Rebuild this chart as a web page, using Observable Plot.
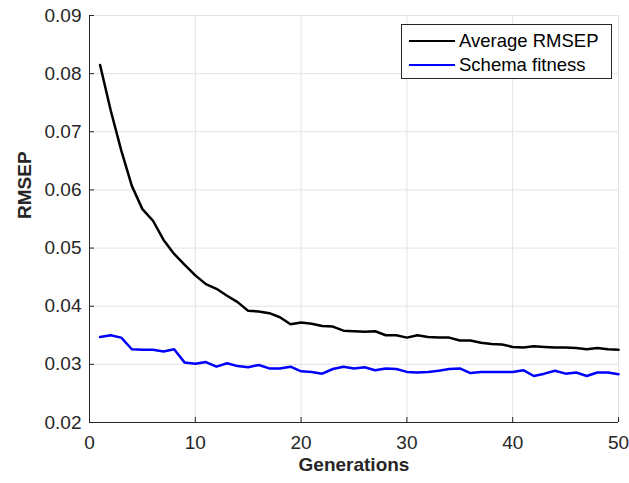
<!DOCTYPE html>
<html>
<head>
<meta charset="utf-8">
<script src="https://cdn.jsdelivr.net/npm/d3@7"></script>
<script src="https://cdn.jsdelivr.net/npm/@observablehq/plot@0.6"></script>
<style>
  html, body { margin: 0; padding: 0; background: #fff; }
  #wrap { position: relative; width: 629px; height: 483px; font-family: "Liberation Sans", Arial, sans-serif; }
  #legend { position: absolute; left: 401px; top: 24px; width: 211px; height: 55px; border: 1px solid #262626; background: #fff; box-sizing: border-box; font-size: 18.5px; color: #000; }
  .row { position: absolute; left: 7px; height: 20px; display: flex; align-items: center; }
  .sw { width: 46px; height: 2.5px; margin-right: 4px; }
</style>
</head>
<body>
<div id="wrap"></div>
<script>
const generations = d3.range(1, 51);
const averageRMSEP = [
  0.0815, 0.0737, 0.0668, 0.0607, 0.0567, 0.0547, 0.0514, 0.0490, 0.0471, 0.0453,
  0.0438, 0.0430, 0.0418, 0.0407, 0.0392, 0.0391, 0.0388, 0.0381, 0.0369, 0.0372,
  0.0370, 0.0366, 0.0365, 0.0358, 0.0357, 0.0356, 0.0357, 0.0350, 0.0350, 0.0346,
  0.0350, 0.0347, 0.0346, 0.0346, 0.0341, 0.0341, 0.0337, 0.0335, 0.0334, 0.0330,
  0.0329, 0.0331, 0.0330, 0.0329, 0.0329, 0.0328, 0.0326, 0.0328, 0.0326, 0.0325
];
const schemaFitness = [
  0.0347, 0.0350, 0.0346, 0.0326, 0.0325, 0.0325, 0.0322, 0.0326, 0.0303, 0.0301,
  0.0304, 0.0296, 0.0302, 0.0297, 0.0295, 0.0299, 0.0293, 0.0293, 0.0296, 0.0288,
  0.0287, 0.0284, 0.0292, 0.0296, 0.0293, 0.0295, 0.0290, 0.0293, 0.0292, 0.0287,
  0.0286, 0.0287, 0.0289, 0.0292, 0.0293, 0.0285, 0.0287, 0.0287, 0.0287, 0.0287,
  0.0290, 0.0280, 0.0284, 0.0289, 0.0284, 0.0286, 0.0280, 0.0286, 0.0286, 0.0283
];
const xTicks = [0, 10, 20, 30, 40, 50];
const yTicks = [0.02, 0.03, 0.04, 0.05, 0.06, 0.07, 0.08, 0.09];
const seriesNames = ["Average RMSEP", "Schema fitness"];
const seriesColors = ["#000000", "#0000ff"];

const rows = [];
generations.forEach((g, i) => {
  rows.push({g, v: averageRMSEP[i], s: seriesNames[0]});
  rows.push({g, v: schemaFitness[i], s: seriesNames[1]});
});

const mL = 89, mR = 11, mT = 15, mB = 61, W = 629, H = 483;
const fw = W - mL - mR, fh = H - mT - mB;
const axisColor = "#262626";

const plot = Plot.plot({
  width: W, height: H,
  marginLeft: mL, marginRight: mR, marginTop: mT, marginBottom: mB,
  style: {fontFamily: "Liberation Sans, Arial, sans-serif", fontSize: "19px", color: axisColor, background: "#fff"},
  x: {domain: [0, 50], ticks: xTicks, label: null},
  y: {domain: [0.02, 0.09], ticks: yTicks, label: null},
  color: {domain: seriesNames, range: seriesColors},
  marks: [
    Plot.gridX(xTicks, {stroke: "#e3e3e3", strokeOpacity: 1, strokeWidth: 1}),
    Plot.gridY(yTicks, {stroke: "#e3e3e3", strokeOpacity: 1, strokeWidth: 1}),
    Plot.tickX(xTicks, {x: d => d, stroke: axisColor, insetTop: fh - 5}),
    Plot.tickY(yTicks, {y: d => d, stroke: axisColor, insetRight: fw - 5}),
    Plot.ruleX([0], {stroke: axisColor}),
    Plot.ruleY([0.02], {stroke: axisColor}),
    Plot.axisX(xTicks, {tickSize: 0, tickPadding: 13, fontSize: 19, fill: axisColor, label: null}),
    Plot.axisY(yTicks, {tickSize: 0, tickPadding: 8, fontSize: 19, fill: axisColor, label: null, tickFormat: d => d.toFixed(2)}),
    Plot.line(rows, {x: "g", y: "v", z: "s", stroke: "s", strokeWidth: 2.5}),
    Plot.text(["Generations"], {frameAnchor: "bottom", dy: 48, fontSize: 19, fontWeight: "bold", fill: axisColor}),
    Plot.text(["RMSEP"], {frameAnchor: "left", dx: -65, rotate: -90, fontSize: 19, fontWeight: "bold", fill: axisColor})
  ]
});

const wrap = document.getElementById("wrap");
wrap.appendChild(plot);
const legend = document.createElement("div");
legend.id = "legend";
seriesNames.forEach((name, i) => {
  const row = document.createElement("div");
  row.className = "row";
  row.style.top = (6 + i * 24) + "px";
  const sw = document.createElement("div");
  sw.className = "sw";
  sw.style.background = seriesColors[i];
  const t = document.createElement("span");
  t.textContent = name;
  row.appendChild(sw);
  row.appendChild(t);
  legend.appendChild(row);
});
wrap.appendChild(legend);
</script>
</body>
</html>
